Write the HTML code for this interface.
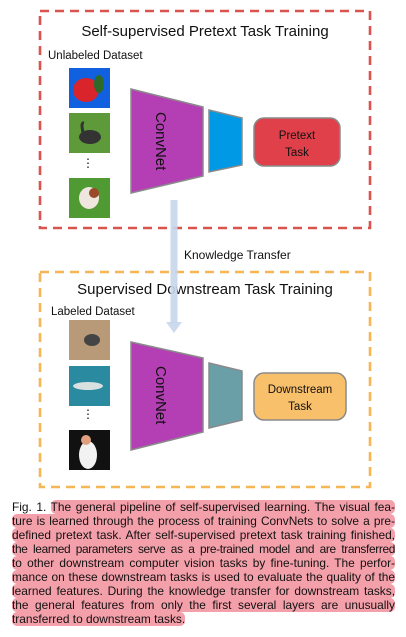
<!DOCTYPE html>
<html><head><meta charset="utf-8"><style>
html,body{margin:0;padding:0;background:#fff;width:406px;height:637px;overflow:hidden;position:relative;font-family:"Liberation Sans",sans-serif}
.cap{position:absolute;left:12px;width:383px;font-size:11.9px;line-height:14px;color:#111}
.ln{position:absolute;left:0;width:383px;height:14px;text-align:justify;text-align-last:justify;white-space:nowrap;overflow:hidden}
.hl{background:#f4a0aa;border-radius:5px}
</style></head><body>
<svg width="406" height="490" style="position:absolute;left:0;top:0" font-family="Liberation Sans, DejaVu Sans, sans-serif">
<rect x="40" y="11" width="330" height="217" fill="none" stroke="#d9534f" stroke-width="2.6" stroke-dasharray="9,6"/>
<text x="205" y="36" font-size="15" text-anchor="middle" fill="#111">Self-supervised Pretext Task Training</text>
<text x="48" y="59" font-size="11.5" fill="#111">Unlabeled Dataset</text>
<rect x="69" y="68" width="41" height="40" fill="#1060e0"/>
<ellipse cx="86" cy="90" rx="13" ry="12" fill="#d8242a"/>
<ellipse cx="99" cy="84" rx="5" ry="9" fill="#2d6a2a"/>
<rect x="69" y="113" width="41" height="40" fill="#5f9a3a"/>
<ellipse cx="90" cy="137" rx="11" ry="7" fill="#333"/>
<path d="M84 136 Q80 122 84 123" stroke="#333" stroke-width="3" fill="none"/>
<text x="88" y="167" font-size="12" text-anchor="middle" fill="#111">⋮</text>
<rect x="69" y="178" width="41" height="40" fill="#4f9a33"/>
<ellipse cx="89" cy="198" rx="10" ry="11" fill="#f0e6e0"/>
<ellipse cx="94" cy="193" rx="5" ry="5" fill="#9a4a2a"/>
<polygon points="131,89 203,107 203,176 131,193" fill="#b43fb4" stroke="#8a8a8a" stroke-width="1.5"/>
<text transform="translate(156,112) rotate(90)" font-size="15" fill="#111">ConvNet</text>
<polygon points="209,110 242,118 242,165 209,172" fill="#0099e6" stroke="#8a8a8a" stroke-width="1.5"/>
<rect x="254" y="118" width="86" height="48" rx="10" fill="#e0404a" stroke="#8a8a8a" stroke-width="1.5"/>
<text x="297" y="139" font-size="11.5" text-anchor="middle" fill="#111">Pretext</text>
<text x="297" y="156" font-size="11.5" text-anchor="middle" fill="#111">Task</text>
<rect x="40" y="272" width="330" height="215" fill="none" stroke="#f7b655" stroke-width="2.6" stroke-dasharray="9,6"/>
<text x="205" y="294" font-size="15" text-anchor="middle" fill="#111">Supervised Downstream Task Training</text>
<text x="51" y="315" font-size="11.5" fill="#111">Labeled Dataset</text>
<rect x="69" y="320" width="41" height="40" fill="#b89a78"/>
<ellipse cx="92" cy="340" rx="8" ry="6" fill="#444"/>
<rect x="69" y="366" width="41" height="40" fill="#2a8aa0"/>
<ellipse cx="88" cy="386" rx="15" ry="4" fill="#d8e0e0"/>
<text x="88" y="418" font-size="12" text-anchor="middle" fill="#111">⋮</text>
<rect x="69" y="430" width="41" height="40" fill="#111"/>
<ellipse cx="88" cy="455" rx="9" ry="14" fill="#f2f2f2"/>
<circle cx="86" cy="440" r="5" fill="#e0a080"/>
<polygon points="131,342 203,358 203,432 131,450" fill="#b43fb4" stroke="#8a8a8a" stroke-width="1.5"/>
<text transform="translate(156,366) rotate(90)" font-size="15" fill="#111">ConvNet</text>
<polygon points="209,363 242,371 242,420 209,428" fill="#6b9fa8" stroke="#8a8a8a" stroke-width="1.5"/>
<rect x="254" y="373" width="92" height="47" rx="10" fill="#f8c06a" stroke="#8a8a8a" stroke-width="1.5"/>
<text x="300" y="393" font-size="11.5" text-anchor="middle" fill="#111">Downstream</text>
<text x="300" y="410" font-size="11.5" text-anchor="middle" fill="#111">Task</text>
<rect x="170.5" y="200" width="7" height="123" fill="#c5d6ea" opacity="0.9"/>
<polygon points="166,322 182,322 174,333" fill="#c5d6ea" opacity="0.9"/>
<text x="184" y="259" font-size="12" fill="#111">Knowledge Transfer</text>
</svg>
<div class="cap" style="top:500px">
<div class="ln" style="top:0">Fig. 1. <span class="hl">The general pipeline of self-supervised learning. The visual fea-</span></div>
<div class="ln hl" style="top:14px">ture is learned through the process of training ConvNets to solve a pre-</div>
<div class="ln hl" style="top:28px">defined pretext task. After self-supervised pretext task training finished,</div>
<div class="ln hl" style="top:42px;letter-spacing:-0.35px">the learned parameters serve as a pre-trained model and are transferred</div>
<div class="ln hl" style="top:56px">to other downstream computer vision tasks by fine-tuning. The perfor-</div>
<div class="ln hl" style="top:70px">mance on these downstream tasks is used to evaluate the quality of the</div>
<div class="ln hl" style="top:84px">learned features. During the knowledge transfer for downstream tasks,</div>
<div class="ln hl" style="top:98px">the general features from only the first several layers are unusually</div>
<div class="ln" style="top:112px;text-align-last:left"><span class="hl">transferred to downstream tasks.</span></div>
</div>
</body></html>
